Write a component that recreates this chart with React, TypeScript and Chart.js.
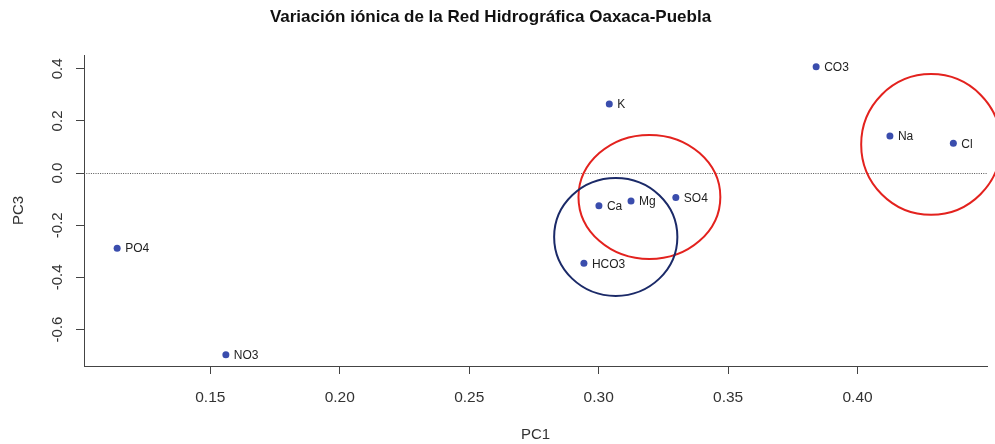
import { useEffect, useRef } from "react";
import { Chart, registerables } from "chart.js";

Chart.register(...registerables);

const chartTitle = "Variación iónica de la Red Hidrográfica Oaxaca-Puebla";
const ionLabels = ["PO4", "NO3", "K", "CO3", "Na", "Cl", "Ca", "Mg", "SO4", "HCO3"];
const pc1Values = [0.114, 0.156, 0.3041, 0.384, 0.4125, 0.437, 0.3001, 0.3125, 0.3298, 0.2943];
const pc3Values = [-0.288, -0.6965, 0.265, 0.408, 0.1424, 0.1144, -0.125, -0.107, -0.094, -0.346];
const xTickValues = [0.15, 0.2, 0.25, 0.3, 0.35, 0.4];
const yTickValues = [-0.6, -0.4, -0.2, 0, 0.2, 0.4];
const groupCenterX = [0.3196, 0.3066, 0.4284];
const groupCenterY = [-0.0916, -0.245, 0.1098];
const groupRadiusX = [0.0274, 0.0238, 0.027];
const groupRadiusY = [0.238, 0.226, 0.27];
const groupColors = ["#E3221E", "#1B2A68", "#E3221E"];

const FONT = "Arial, 'Liberation Sans', Helvetica, sans-serif";

const overlayPlugin = {
  id: "overlay",
  beforeDatasetsDraw(chart: any) {
    const { ctx, chartArea, scales } = chart;
    const ys = scales.y;
    ctx.save();
    ctx.strokeStyle = "#555";
    ctx.lineWidth = 1;
    ctx.setLineDash([1, 1.3]);
    const y0 = Math.round(ys.getPixelForValue(0)) + 0.5;
    ctx.beginPath();
    ctx.moveTo(chartArea.left, y0);
    ctx.lineTo(chartArea.right, y0);
    ctx.stroke();
    ctx.restore();
  },
  afterDatasetsDraw(chart: any) {
    const { ctx, scales } = chart;
    const xs = scales.x;
    const ys = scales.y;
    ctx.save();
    ctx.lineWidth = 2;
    for (let i = 0; i < groupCenterX.length; i++) {
      const cx = xs.getPixelForValue(groupCenterX[i]);
      const cy = ys.getPixelForValue(groupCenterY[i]);
      const rx = Math.abs(xs.getPixelForValue(groupCenterX[i] + groupRadiusX[i]) - cx);
      const ry = Math.abs(ys.getPixelForValue(groupCenterY[i] + groupRadiusY[i]) - cy);
      ctx.strokeStyle = groupColors[i];
      ctx.beginPath();
      ctx.ellipse(cx, cy, rx, ry, 0, 0, Math.PI * 2);
      ctx.stroke();
    }
    ctx.restore();
    const meta = chart.getDatasetMeta(0);
    ctx.save();
    ctx.font = `12px ${FONT}`;
    ctx.fillStyle = "#222";
    ctx.textAlign = "left";
    ctx.textBaseline = "middle";
    meta.data.forEach((el: any, i: number) => {
      ctx.fillText(ionLabels[i], el.x + 8, el.y + 1);
    });
    ctx.restore();
  },
  afterDraw(chart: any) {
    const { ctx, scales } = chart;
    const ys = scales.y;
    ctx.save();
    ctx.font = `15px ${FONT}`;
    ctx.fillStyle = "#333";
    ctx.textAlign = "center";
    ctx.textBaseline = "alphabetic";
    yTickValues.forEach((v) => {
      const py = ys.getPixelForValue(v);
      ctx.save();
      ctx.translate(61.5, py);
      ctx.rotate(-Math.PI / 2);
      ctx.fillText(v.toFixed(1), 0, 0);
      ctx.restore();
    });
    ctx.restore();
    ctx.save();
    ctx.font = `bold 17px ${FONT}`;
    ctx.fillStyle = "#111";
    ctx.textAlign = "center";
    ctx.textBaseline = "alphabetic";
    ctx.fillText(chartTitle, 490.5, 21.5);
    ctx.restore();
  },
};

export default function App() {
  const canvasRef = useRef<HTMLCanvasElement | null>(null);

  useEffect(() => {
    const canvas = canvasRef.current;
    if (!canvas) return;
    const chart = new Chart(canvas, {
      type: "scatter",
      data: {
        datasets: [
          {
            label: "Iones",
            data: pc1Values.map((x, i) => ({ x, y: pc3Values[i] })),
            backgroundColor: "#3A4DAD",
            borderColor: "#3A4DAD",
            pointRadius: 3.5,
            pointBorderWidth: 0,
          },
        ],
      },
      options: {
        responsive: false,
        animation: false,
        events: [],
        layout: { padding: { top: 55, right: 8, bottom: 0, left: 0 } },
        plugins: {
          legend: { display: false },
          title: { display: false },
          tooltip: { enabled: false },
        },
        scales: {
          x: {
            type: "linear",
            min: 0.1012,
            max: 0.45,
            afterBuildTicks: (scale: any) => {
              scale.ticks = xTickValues.map((v) => ({ value: v }));
            },
            afterFit: (scale: any) => {
              scale.height = 78;
            },
            grid: {
              display: true,
              drawOnChartArea: false,
              drawTicks: true,
              tickLength: 8,
              color: "#444",
            },
            border: { display: true, color: "#444", width: 1 },
            ticks: {
              padding: 14,
              color: "#333",
              font: { family: FONT, size: 15.5 },
              maxRotation: 0,
              autoSkip: false,
              callback: (v: any) => Number(v).toFixed(2),
            },
            title: {
              display: true,
              text: "PC1",
              color: "#333",
              font: { family: FONT, size: 15 },
              padding: { top: 0, bottom: 0 },
            },
          },
          y: {
            type: "linear",
            min: -0.74,
            max: 0.453,
            afterBuildTicks: (scale: any) => {
              scale.ticks = yTickValues.map((v) => ({ value: v }));
            },
            afterFit: (scale: any) => {
              scale.width = 84;
            },
            grid: {
              display: true,
              drawOnChartArea: false,
              drawTicks: true,
              tickLength: 8,
              color: "#444",
            },
            border: { display: true, color: "#444", width: 1 },
            ticks: { display: false },
            title: {
              display: true,
              text: "PC3",
              color: "#333",
              font: { family: FONT, size: 15 },
              padding: { top: 10, bottom: 0 },
            },
          },
        },
      },
      plugins: [overlayPlugin],
    });
    return () => chart.destroy();
  }, []);

  return (
    <div style={{ position: "fixed", left: 0, top: 0, width: 995, height: 444, background: "#fff" }}>
      <canvas ref={canvasRef} width={995} height={444} style={{ display: "block" }} />
    </div>
  );
}
